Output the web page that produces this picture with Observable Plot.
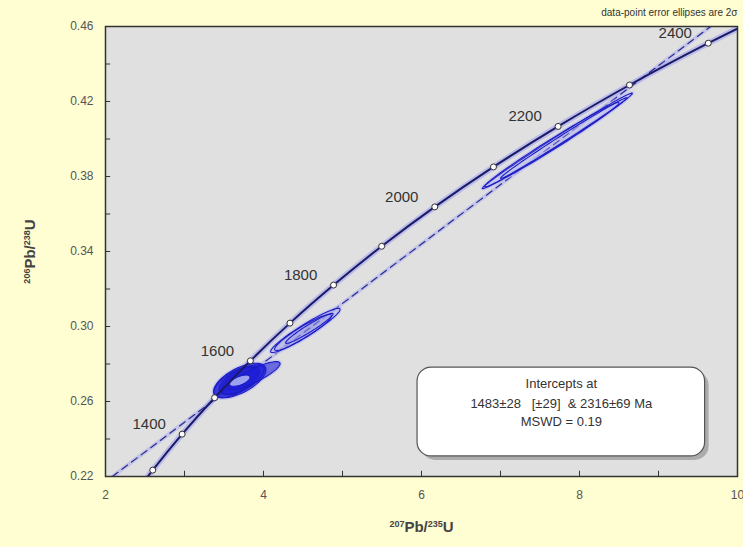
<!DOCTYPE html>
<html><head><meta charset="utf-8">
<script src="https://cdn.jsdelivr.net/npm/d3@7"></script>
<script src="https://cdn.jsdelivr.net/npm/@observablehq/plot@0.6"></script>
<style>
html,body{margin:0;padding:0;background:#fffed2;}
#chart svg{display:block;}
</style></head><body><div id="chart"></div>
<script>
// Concordia points (age in Ma, 207Pb/235U, 206Pb/238U)
const concordiaAges = [1200,1300,1400,1500,1600,1700,1800,1900,2000,2100,2200,2300,2400,2500];
const concordiaX = [2.260,2.598,2.970,3.381,3.834,4.335,4.887,5.496,6.168,6.911,7.729,8.633,9.630,10.73];
const concordiaY = [0.2045,0.2234,0.2426,0.2620,0.2817,0.3018,0.3221,0.3428,0.3638,0.3851,0.4067,0.4288,0.4511,0.4737];
const labelAges = [1400,1600,1800,2000,2200,2400];
// Discordia (regression) line end points
const discordiaX = [2.087, 9.66];
const discordiaY = [0.22, 0.46];
// Error ellipses: centre, 2-sigma half extents, correlation
const ellGroup = ["cluster","cluster","cluster","cluster","cluster","inner","mid","mid","mid","upper","upper","upper"];
const ellCX  = [3.70, 3.66, 3.74, 3.68, 3.88, 3.70, 4.53, 4.50, 4.58, 7.72, 7.65, 7.80];
const ellCY  = [0.2712,0.2705,0.2716,0.2710,0.2738,0.2711,0.2979,0.2968,0.2990,0.3990,0.3970,0.4005];
const ellSX  = [0.33, 0.29, 0.27, 0.24, 0.33, 0.13, 0.44, 0.36, 0.30, 0.95, 0.85, 0.80];
const ellSY  = [0.0092,0.0085,0.0080,0.0072,0.0075,0.0030,0.0118,0.0096,0.0080,0.0255,0.0225,0.0215];
const ellRho = [0.62, 0.65, 0.68, 0.62, 0.85, 0.60, 0.95, 0.93, 0.96, 0.995, 0.99, 0.995];
// Axis ticks
const xTickLabels = [2,4,6,8,10];
const xTicks = [2,3,4,5,6,7,8,9,10];
const yTickLabels = [0.22,0.26,0.30,0.34,0.38,0.42,0.46];
const yTicks = [0.22,0.24,0.26,0.28,0.30,0.32,0.34,0.36,0.38,0.40,0.42,0.44,0.46];
const boxLines = ["Intercepts at", "1483±28\u00a0\u00a0\u00a0[±29]\u00a0\u00a0& 2316±69 Ma", "MSWD = 0.19"];
const xTitle = ["207", "Pb/", "235", "U"];
const yTitle = ["206", "Pb/", "238", "U"];

const concordia = concordiaAges.map((a,i)=>({age:a, x:concordiaX[i], y:concordiaY[i]}));
const tickPts = concordia.filter(d => d.age >= 1300 && d.age <= 2400);
const labels = concordia.filter(d => labelAges.includes(d.age));
const discordia = discordiaX.map((x,i)=>({x, y:discordiaY[i]}));

const ellPts = [];
ellCX.forEach((cx,i)=>{
  const sx=ellSX[i], sy=ellSY[i], r=ellRho[i], cy=ellCY[i];
  for(let k=0;k<=80;k++){
    const t=2*Math.PI*k/80;
    ellPts.push({id:i, g:ellGroup[i], x:cx+sx*Math.cos(t), y:cy+sy*(r*Math.cos(t)+Math.sqrt(1-r*r)*Math.sin(t))});
  }
});
const fillOf = {cluster:"#1e1ed8", inner:"#a9b0f2", mid:"#9090e8", upper:"#b8b8f2"};
const opOf = {cluster:0.6, inner:0.9, mid:0.22, upper:0.12};

const chart = Plot.plot({
  width: 743, height: 547,
  marginLeft: 105, marginRight: 6, marginTop: 26, marginBottom: 71,
  style: {background:"#fffed2", fontFamily:"'Liberation Sans', Arial, sans-serif", fontSize:"12px", color:"#555"},
  x: {domain:[2,10], ticks:xTickLabels, tickSize:0, tickPadding:14, label:null},
  y: {domain:[0.22,0.46], ticks:yTickLabels, tickFormat:d3.format(".2f"), tickSize:0, tickPadding:12, label:null},
  marks: [
    Plot.frame({fill:"#e0e0e0"}),
    // halos
    Plot.line(discordia, {x:"x", y:"y", stroke:"#a8a8f0", strokeWidth:4, strokeOpacity:0.5, clip:true}),
    Plot.line(concordia, {x:"x", y:"y", curve:"catmull-rom", stroke:"#9c9cf0", strokeWidth:6, strokeOpacity:0.55, clip:true}),
    Plot.line(discordia, {x:"x", y:"y", stroke:"#2a2a90", strokeWidth:1.2, strokeDasharray:"7,5", clip:true}),
    Plot.line(ellPts, {x:"x", y:"y", z:"id", stroke:"#b8b8f4", strokeWidth:4, strokeOpacity:0.5, clip:true}),
    Plot.line(ellPts, {x:"x", y:"y", z:"id", fill:d=>fillOf[d.g], fillOpacity:d=>opOf[d.g], stroke:"#1c1cc4", strokeWidth:1.1, clip:true}),
    Plot.line(concordia, {x:"x", y:"y", curve:"catmull-rom", stroke:"#1a1a66", strokeWidth:2, clip:true}),
    Plot.dot(tickPts, {x:"x", y:"y", r:3, fill:"#fff", stroke:"#333", strokeWidth:1}),
    Plot.text(labels, {x:"x", y:"y", text:d=>String(d.age), dx:-33, dy:-10, fontSize:15, fill:"#333"}),
    Plot.ruleX(xTicks, {y1:0.22, y2:0.2228, stroke:"#333"}),
    Plot.ruleY(yTicks, {x1:2, x2:2.065, stroke:"#333"}),
    Plot.frame({stroke:"#333", strokeWidth:1.5}),
    // intercept box
    Plot.rect([0], {x1:5.95, x2:9.59, y1:0.2307, y2:0.2781, rx:14, fill:"#888", fillOpacity:0.6, dx:4, dy:4}),
    Plot.rect([0], {x1:5.95, x2:9.59, y1:0.2307, y2:0.2781, rx:14, fill:"#fff", stroke:"#555", strokeWidth:1.2}),
    Plot.text(boxLines, {x:7.77, y:(d,i)=>[0.2696,0.2589,0.2493][i], text:d=>d, fontSize:13, fill:"#333"}),
    Plot.text(["data-point error ellipses are 2σ"], {x:10, y:0.4675, textAnchor:"end", fontSize:10, fill:"#333"}),
    Plot.text([xTitle.join("")], {x:6, y:0.1928, fontSize:15, fontWeight:"bold", fill:"#444", ariaLabel:()=>"xtitle"}),
    Plot.text([yTitle.join("")], {x:1.05, y:0.34, rotate:-90, fontSize:15, fontWeight:"bold", fill:"#444", ariaLabel:()=>"ytitle"})
  ]
});
// superscript isotope masses as tspans
function supify(label, parts){
  const t = [...chart.querySelectorAll("text")].find(e => e.textContent === parts.join(""));
  if(!t) return;
  t.textContent = "";
  parts.forEach((p,i)=>{
    const s = document.createElementNS("http://www.w3.org/2000/svg","tspan");
    s.textContent = p;
    if(i%2===0){ s.setAttribute("font-size","9"); s.setAttribute("dy", i===0 ? "-5" : "-5"); }
    else { s.setAttribute("dy","5"); }
    t.appendChild(s);
  });
}
supify("xtitle", xTitle);
supify("ytitle", yTitle);
document.getElementById("chart").appendChild(chart);
</script></body></html>
